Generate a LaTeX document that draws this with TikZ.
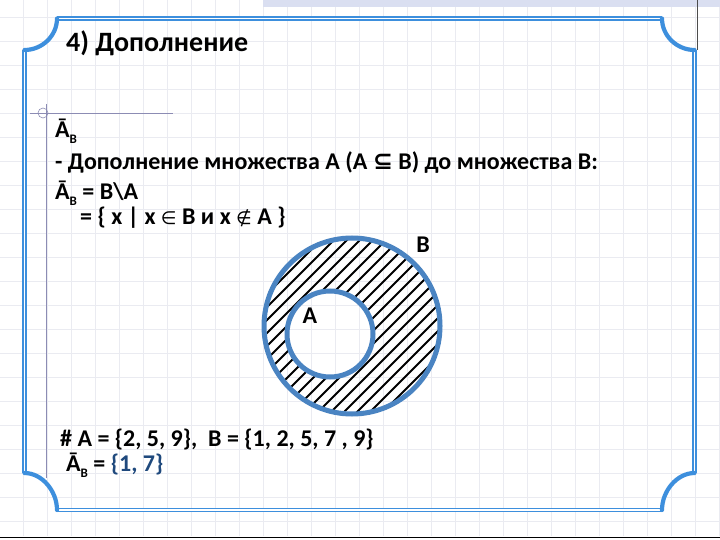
\documentclass[tikz,border=0pt]{standalone}
\usepackage{fontspec}
\setmainfont{Carlito}
\newfontfamily\symfam{DejaVu Sans}
\definecolor{framecol}{HTML}{3D8FDD}
\definecolor{circcol}{HTML}{4A84C2}
\definecolor{gridcol}{HTML}{EAEBF1}
\definecolor{barcol}{HTML}{DADFF1}
\definecolor{markcol}{HTML}{8C8CB4}
\definecolor{navycol}{HTML}{1F497D}
\newcommand{\Asub}{Ā\raisebox{-0.25em}{\fontsize{13}{13}\selectfont B}}
\newcommand{\bigsym}[1]{{\symfam\fontsize{24}{24}\selectfont #1}}
\newcommand{\thinsym}[1]{{\symfam\mdseries\fontsize{18}{24}\selectfont #1}}
\tikzset{
  gridline/.style={draw=gridcol, line width=0.5pt},
  frameedge/.style={draw=framecol, double=white, line width=1.3pt, double distance=1.5pt},
  framecorner/.style={draw=framecol, line width=4.2pt, line cap=round},
  bodytext/.style={anchor=west, inner sep=0pt, font=\fontsize{24}{28}\selectfont\bfseries},
  titletext/.style={anchor=west, inner sep=0pt, font=\fontsize{28}{32}\selectfont\bfseries},
  setcircle/.style={draw=circcol, line width=5pt},
  hatchline/.style={draw=black, line width=2pt},
  markline/.style={draw=markcol, line width=0.6pt}
}
\begin{document}
\begin{tikzpicture}[x=1pt, y=-1pt]
\useasboundingbox (0,0) rectangle (720,540);
\fill[white] (0,0) rectangle (720,540);
% grid
\foreach \k in {1,...,30} \draw[gridline] (24*\k-1,0) -- (24*\k-1,536);
\foreach \k in {1,...,22} \draw[gridline] (0,24*\k-7) -- (720,24*\k-7);
% top bar and marks
\fill[barcol] (263,0) rectangle (720,7);
\coordinate (vt) at (697,0);
\coordinate (vb) at (697,50);
\draw[draw=black!70, line width=0.6pt] (vt) -- (vb);
\coordinate (bl) at (0,537.5);
\coordinate (br) at (720,537.5);
\draw[black, line width=1.6pt] (bl) -- (br);
% frame
\coordinate (t1) at (57,18.5);
\coordinate (t2) at (662,18.5);
\coordinate (l1) at (24.5,50);
\coordinate (l2) at (24.5,473);
\coordinate (r1) at (694.5,50);
\coordinate (r2) at (694.5,473);
\coordinate (b1) at (57,510);
\coordinate (b2) at (662,510);
\draw[frameedge] (t1) -- (t2);
\draw[frameedge] (l1) -- (l2);
\draw[frameedge] (r1) -- (r2);
\draw[frameedge] (b1) -- (b2);
\draw[framecorner] (t1) .. controls (57,36) and (42,50) .. (l1);
\draw[framecorner] (t2) .. controls (662,36) and (677,50) .. (r1);
\draw[framecorner] (l2) .. controls (42,473) and (57,491) .. (b1);
\draw[framecorner] (b2) .. controls (662,491) and (677,473) .. (r2);
% text box marker
\coordinate (mc) at (43,113);
\coordinate (mh) at (173,113);
\coordinate (mv1) at (46,104);
\coordinate (mv2) at (46,478);
\draw[markline] (30,113) -- (mh);
\draw[markline] (mv1) -- (mv2);
\draw[markline] (mc) circle (5);
% title
\node[titletext] (title) at (66,43) {4) Дополнение};
% body
\node[bodytext] (l1t) at (55,131) {\Asub};
\node[bodytext] (l2t) at (55,163) {- Дополнение множества А (А \bigsym{⊆} В) до множества В:};
\node[bodytext] (l3t) at (55,193) {\Asub{} = B\textbackslash A};
\node[bodytext] (l4t) at (80,218) {= \{ x | x \thinsym{∈} B и x \thinsym{∉} A \}};
% circles
\coordinate (oc) at (352,326);
\coordinate (ic) at (330,334);
\begin{scope}[even odd rule]
  \clip (oc) circle (90) (ic) circle (43);
  \foreach \k in {-20,...,20} \draw[hatchline] (352+13*\k-120,446) -- (352+13*\k+120,206);
\end{scope}
\draw[setcircle] (oc) circle (88);
\draw[setcircle] (ic) circle (43);
\node[bodytext, anchor=center] (labB) at (423,245) {B};
\node[bodytext, anchor=center] (labA) at (310,316) {A};
% bottom
\node[bodytext] (ex1) at (60,440) {\# A = \{2, 5, 9\},\ \ B = \{1, 2, 5, 7 , 9\}};
\node[bodytext] (ex2) at (66,465) {\Asub{} = \textcolor{navycol}{\{1, 7\}}};
\end{tikzpicture}
\end{document}
